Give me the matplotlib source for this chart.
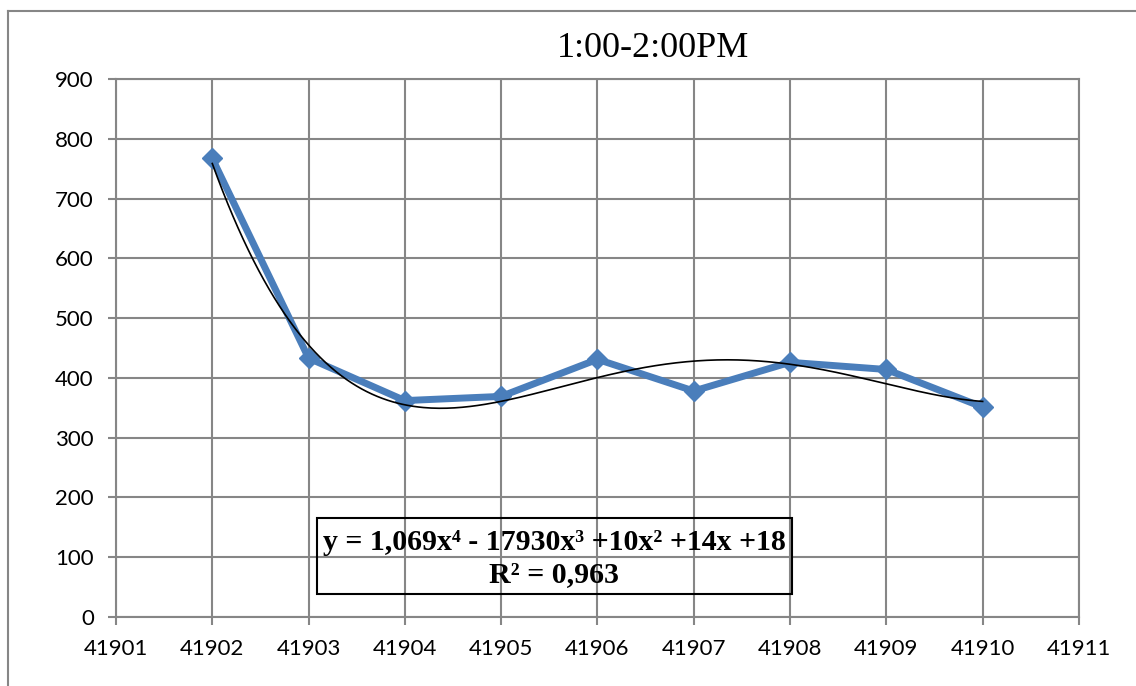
import numpy as np
import matplotlib.pyplot as plt
from matplotlib.patches import Rectangle
from matplotlib.lines import Line2D

# readings for the 1:00-2:00PM slot
days = [41902, 41903, 41904, 41905, 41906, 41907, 41908, 41909, 41910]
counts = [767, 433, 362, 369, 431, 378, 426, 414, 351]

eq_text = "y = 1,069x\u2074 - 17930x\u00b3 +10x\u00b2 +14x +18"
r2_text = "R\u00b2 = 0,963"

grid_col = '#868686'
blue = '#4A7EBB'

fig = plt.figure(figsize=(11.36, 6.86), dpi=100)
ax = fig.add_axes([0.1021, 0.1006, 0.8477, 0.7843])

# 4th order trend line through the points
xs = np.array(days, dtype=float)
coef = np.polyfit(xs - xs[0], counts, 4)
xt = np.linspace(xs[0], xs[-1], 300)
ax.plot(xt, np.polyval(coef, xt - xs[0]), color='black', lw=1.2, zorder=4)

ax.plot(days, counts, color=blue, lw=5, marker='D', ms=10,
        mfc=blue, mec=blue, zorder=3)

ax.set_xlim(41901, 41911)
ax.set_ylim(0, 900)
ax.set_xticks(range(41901, 41912))
ax.set_yticks(range(0, 901, 100))
ax.xaxis.set_major_formatter(plt.FuncFormatter(lambda v, p: '%d' % v))

ax.grid(True, color=grid_col, lw=1.5)
ax.set_axisbelow(True)
for s in ax.spines.values():
    s.set_color(grid_col)
    s.set_linewidth(1.5)
ax.tick_params(direction='out', length=6, width=1.5, color=grid_col,
               labelsize=16, pad=10)
for lab in ax.get_xticklabels() + ax.get_yticklabels():
    lab.set_family(['Lato', 'DejaVu Sans'])

fig.text(0.575, 0.93, '1:00-2:00PM', ha='center', va='center',
         fontsize=26, family=['Liberation Serif', 'DejaVu Serif'])

# equation box (transparent, grid shows through)
ax.add_patch(Rectangle((0.2087, 0.0428), 0.4933, 0.1412, transform=ax.transAxes,
                       fill=False, edgecolor='black', lw=1.5, zorder=5))
serif = ['Liberation Serif', 'DejaVu Serif']
ax.text(0.455, 0.139, eq_text, transform=ax.transAxes, ha='center', va='center',
        fontsize=21.5, fontweight='bold', family=serif, zorder=6)
ax.text(0.455, 0.078, r2_text, transform=ax.transAxes, ha='center', va='center',
        fontsize=21.5, fontweight='bold', family=serif, zorder=6)

# outer chart frame
fig.add_artist(Line2D([8 / 1136, 8 / 1136], [0, 1 - 11 / 686], color=grid_col,
                      lw=1.5, transform=fig.transFigure))
fig.add_artist(Line2D([8 / 1136, 1], [1 - 11 / 686, 1 - 11 / 686], color=grid_col,
                      lw=1.5, transform=fig.transFigure))

fig.savefig('out.png', dpi=100)
